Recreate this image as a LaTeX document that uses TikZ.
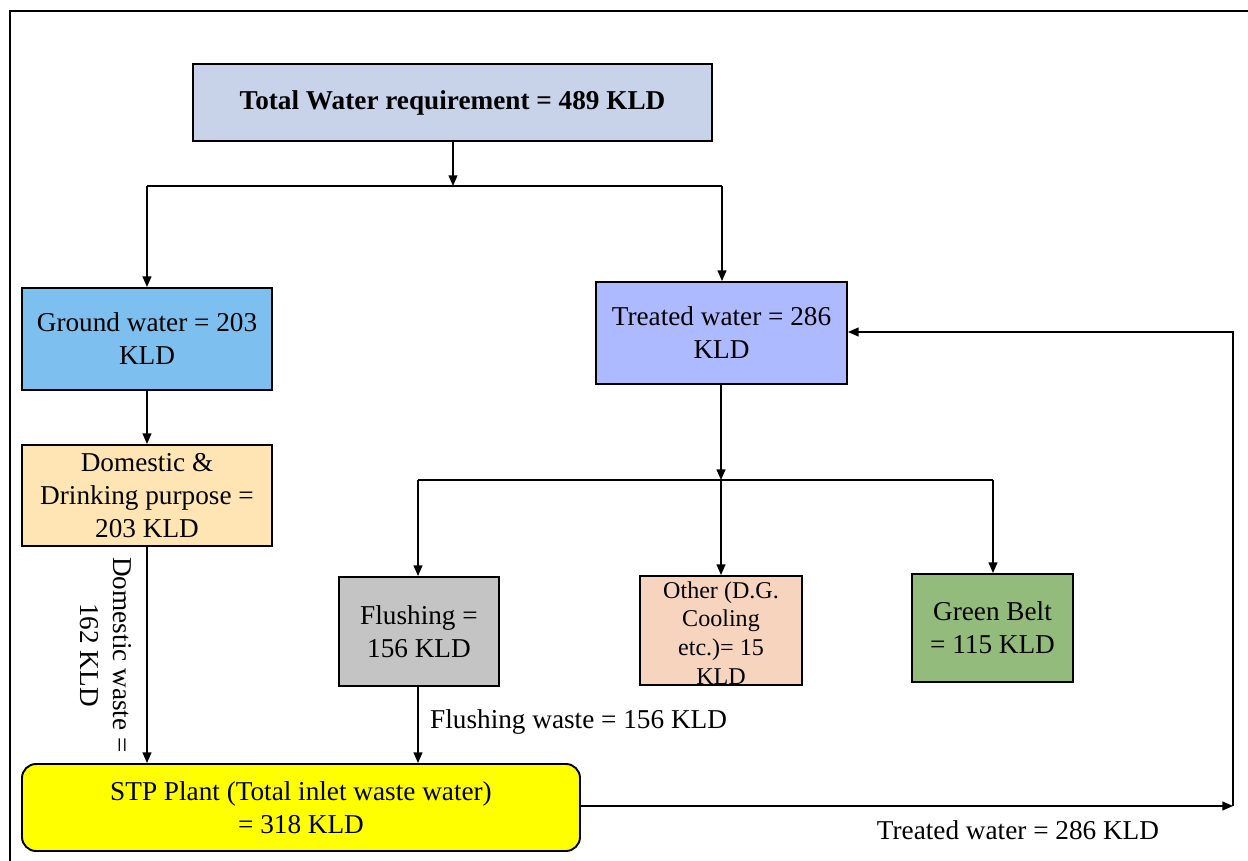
\documentclass[tikz,border=0pt]{standalone}
\usepackage{fontspec}
\setmainfont{Liberation Serif}
\usetikzlibrary{arrows.meta}

\definecolor{topfill}{HTML}{C8D3EA}
\definecolor{groundfill}{HTML}{7DBFEE}
\definecolor{treatfill}{HTML}{ADBAFF}
\definecolor{domfill}{HTML}{FFE5B4}
\definecolor{flushfill}{HTML}{C4C4C4}
\definecolor{otherfill}{HTML}{F7D4BE}
\definecolor{greenfill}{HTML}{93BC7C}
\definecolor{stpfill}{HTML}{FFFF00}

\begin{document}
\begin{tikzpicture}[x=0.02cm,y=-0.02cm,
        font=\fontsize{15.5}{18.7}\selectfont,
        flowbox/.style={draw=black,line width=1.1pt,inner sep=0pt,align=center},
        flow/.style={draw=black,line width=0.8pt,-{Triangle[length=6pt,width=5pt]}},
        plain/.style={draw=black,line width=0.8pt}]
        \useasboundingbox (0,0) rectangle (1248,861);
        \draw [line width=1.2pt] (10,880) -- (10,11) -- (1260,11);
        % boxes
        \node (total) [flowbox,fill=topfill,minimum width=519*0.02cm,minimum height=77*0.02cm] at (452.5,102.5) {\bfseries Total Water requirement = 489 KLD};
        \node (ground) [flowbox,fill=groundfill,minimum width=250*0.02cm,minimum height=102*0.02cm] at (147,339) {Ground water = 203\\KLD};
        \node (treated) [flowbox,fill=treatfill,minimum width=251*0.02cm,minimum height=102*0.02cm] at (721.5,333) {Treated water = 286\\KLD};
        \node (domestic) [flowbox,fill=domfill,minimum width=250*0.02cm,minimum height=101*0.02cm] at (147,495.5) {Domestic \&\\Drinking purpose =\\203 KLD};
        \node (flushing) [flowbox,fill=flushfill,minimum width=160*0.02cm,minimum height=109*0.02cm] at (419,631.5) {Flushing =\\156 KLD};
        \node (other) [flowbox,fill=otherfill,minimum width=162*0.02cm,minimum height=109*0.02cm] at (721,630.5) {};
        \node (othertxt) [align=center,font=\fontsize{13.7}{16.4}\selectfont] at (721,633) {Other (D.G.\\Cooling\\etc.)= 15\\KLD};
        \node (green) [flowbox,fill=greenfill,minimum width=161*0.02cm,minimum height=108*0.02cm] at (992.5,628) {Green Belt\\= 115 KLD};
        \node (stp) [flowbox,rounded corners=8pt,fill=stpfill,minimum width=558*0.02cm,minimum height=87*0.02cm] at (301,807.5) {STP Plant (Total inlet waste water)\\= 318 KLD};
        % junctions
        \coordinate (split1) at (453,186);
        \coordinate (split2) at (721,480);
        \coordinate (ret) at (1233,806);
        % connectors
        \draw [flow] (total.south -| split1) -- (split1);
        \draw [plain] (147,186) -- (722,186);
        \draw [flow] (147,186) -- (ground.north);
        \draw [flow] (722,186) -- (treated.north -| 722,0);
        \draw [flow] (ground) -- (domestic);
        \draw [flow] (treated.south -| split2) -- (split2);
        \draw [plain] (418,480) -- (993,480);
        \draw [flow] (418,480) -- (flushing.north -| 418,0);
        \draw [flow] (split2) -- (other);
        \draw [flow] (993,480) -- (green.north -| 993,0);
        \draw [flow] (domestic) -- (stp.north -| domestic);
        \draw [flow] (flushing.south -| 418,0) -- (stp.north -| 418,0);
        \draw [flow] (stp.east |- ret) -- (ret);
        \draw [flow] (ret) -- (1233,332) -- (treated.east |- 0,332);
        % labels
        \node (domlabel) [rotate=-90,align=center] at (106,655) {Domestic waste =\\162 KLD};
        \node (flushlabel) [anchor=west] at (424,722) {Flushing waste = 156 KLD};
        \node (retlabel) at (1018,830) {Treated water = 286 KLD};
\end{tikzpicture}
\end{document}
